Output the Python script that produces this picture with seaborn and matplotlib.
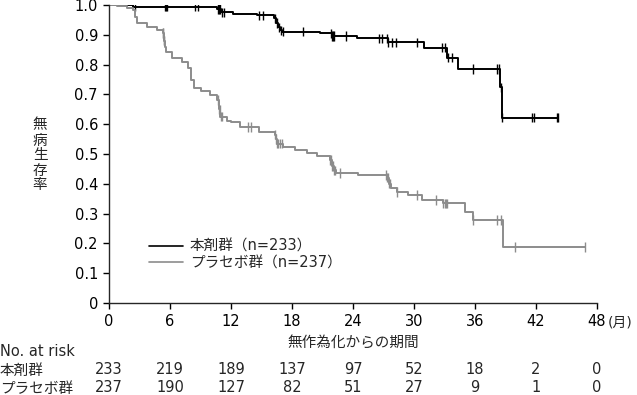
import numpy as np
import pandas as pd
import seaborn as sns
import matplotlib
matplotlib.use('Agg')
import matplotlib.pyplot as plt
import matplotlib.transforms as mtransforms

#Curve data (months, survival after the drop)
drugTime=[0, 2.4, 10.6, 11.0, 12.2, 14.6, 16.2, 16.4, 16.6, 16.8, 17.0, 20.8, 21.9, 24.4, 27.4, 31.0, 33.2, 34.3, 38.5, 38.7, 44.2]
drugSurv=[1.0, 0.994, 0.987, 0.975, 0.970, 0.965, 0.955, 0.940, 0.925, 0.915, 0.910, 0.905, 0.896, 0.888, 0.875, 0.857, 0.823, 0.785, 0.724, 0.622, 0.622]
drugCens=[2.6, 5.5, 5.6, 5.7, 8.5, 8.8, 10.7, 10.8, 10.9, 11.1, 11.3, 14.8, 15.1, 16.3, 16.5, 16.7, 16.9, 17.1,
          19.1, 21.8, 21.9, 22.0, 22.1, 23.3, 26.6, 26.9, 27.3, 27.4, 27.8, 28.2, 30.3, 32.8, 33.0, 33.3, 33.7,
          35.8, 38.2, 38.4, 38.6, 38.7, 41.6, 41.8, 44.1, 44.2]

placeboTime=[0, 0.8, 1.8, 2.4, 2.6, 2.75, 3.7, 4.7, 5.3, 5.4, 5.5, 5.6, 6.2, 7.2, 7.8, 8.1, 8.4, 9.0, 9.9, 10.6, 10.8,
             10.95, 11.6, 12.0, 12.9, 14.8, 16.3, 16.4, 16.5, 17.1, 18.3, 19.5, 20.5, 21.7, 21.9, 22.1, 22.3, 24.5,
             27.3, 27.5, 27.7, 28.3, 29.4, 30.8, 32.9, 35.0, 35.8, 38.8, 46.8]
placeboSurv=[1.0, 0.996, 0.990, 0.983, 0.960, 0.938, 0.927, 0.916, 0.906, 0.880, 0.860, 0.843, 0.821, 0.810, 0.788, 0.748,
             0.720, 0.712, 0.698, 0.681, 0.650, 0.625, 0.612, 0.606, 0.591, 0.575, 0.565, 0.550, 0.535, 0.524, 0.513,
             0.503, 0.493, 0.480, 0.460, 0.445, 0.436, 0.430, 0.420, 0.400, 0.385, 0.372, 0.362, 0.346, 0.335, 0.305,
             0.279, 0.188, 0.188]
placeboCens=[5.3, 5.35, 5.4, 5.45, 10.7, 10.8, 10.9, 11.0, 11.1, 13.7, 14.0, 16.3, 16.4, 16.5, 16.6, 16.8, 17.0,
             21.7, 21.8, 21.9, 22.0, 22.1, 22.2, 22.7, 27.2, 27.3, 27.4, 27.5, 27.6, 28.3, 30.3, 32.2, 32.9, 33.0,
             33.1, 33.2, 35.8, 38.2, 38.6, 39.9, 46.8]

groupNames=['本剤群（n=233）', 'プラセボ群（n=237）']
groupColors=['#000000', '#8c8c8c']

riskTimes=[0, 6, 12, 18, 24, 30, 36, 42, 48]
drugRisk=[233, 219, 189, 137, 97, 52, 18, 2, 0]
placeboRisk=[237, 190, 127, 82, 51, 27, 9, 1, 0]
riskLabels=['本剤群', 'プラセボ群']

yTicks=[0, 0.1, 0.2, 0.3, 0.4, 0.5, 0.6, 0.7, 0.8, 0.9, 1.0]
yTickLabels=['0', '0.1', '0.2', '0.3', '0.4', '0.5', '0.6', '0.7', '0.8', '0.9', '1.0']

#Build data frames
curveDF=pd.concat([
    pd.DataFrame({'month': drugTime, 'surv': drugSurv, 'group': groupNames[0]}),
    pd.DataFrame({'month': placeboTime, 'surv': placeboSurv, 'group': groupNames[1]})])

def censorFrame(times, survs, cens, name):
    idx=np.searchsorted(times, cens, side='right')-1
    return pd.DataFrame({'month': cens, 'surv': np.array(survs)[idx], 'group': name})

censDF=pd.concat([censorFrame(drugTime, drugSurv, drugCens, groupNames[0]),
                  censorFrame(placeboTime, placeboSurv, placeboCens, groupNames[1])])

sns.set_style('ticks')
plt.rcParams['font.family']=['DejaVu Sans', 'Noto Sans CJK JP']

fs=10.5
fig=plt.figure(figsize=(6.37, 3.95), dpi=100)
W, H=637., 395.
ax=fig.add_axes([109/W, 1-303/H, (597-109)/W, (303-5)/H])

palette=dict(zip(groupNames, groupColors))
sns.lineplot(data=curveDF, x='month', y='surv', hue='group', palette=palette, drawstyle='steps-post',
             estimator=None, sort=False, linewidth=1.4, ax=ax)
sns.scatterplot(data=censDF, x='month', y='surv', hue='group', palette=palette, marker='|', s=45,
                linewidth=1.0, legend=False, ax=ax)

ax.set_xlim(0, 48)
ax.set_ylim(0, 1.0)
ax.set_xticks(riskTimes)
ax.set_xticklabels([str(t) for t in riskTimes], fontsize=fs)
ax.set_yticks(yTicks)
ax.set_yticklabels(yTickLabels, fontsize=fs)
ax.tick_params(direction='out', length=4, width=1, pad=4, colors='black')
ax.set_xlabel('')
ax.set_ylabel('')
sns.despine(ax=ax)
ax.spines['left'].set_linewidth(1.0)
ax.spines['bottom'].set_linewidth(1.0)

leg=ax.legend(loc='upper left', bbox_to_anchor=(0.055, 0.26), frameon=False, fontsize=fs,
              handlelength=2.3, handletextpad=0.5, labelspacing=0.1)
for line in leg.get_lines():
    line.set_linewidth(1.2)

#Axis text
fig.text(40/W, 1-155/H, '無\n病\n生\n存\n率', ha='center', va='center', fontsize=fs, linespacing=1.0)
fig.text(608/W, 1-323/H, '(月)', ha='left', va='center', fontsize=10)
fig.text(353/W, 1-343/H, '無作為化からの期間', ha='center', va='center', fontsize=fs)

#Number at risk table
trans=mtransforms.blended_transform_factory(ax.transData, fig.transFigure)
fig.text(0, 1-352/H, 'No. at risk', ha='left', va='center', fontsize=fs)
for row, (label, counts) in enumerate(zip(riskLabels, [drugRisk, placeboRisk])):
    yy=1-(370+18*row)/H
    fig.text(0, yy, label, ha='left', va='center', fontsize=fs)
    for t, n in zip(riskTimes, counts):
        ax.text(t, yy, str(n), transform=trans, ha='center', va='center', fontsize=fs, clip_on=False)

fig.savefig('out.png', dpi=100)
